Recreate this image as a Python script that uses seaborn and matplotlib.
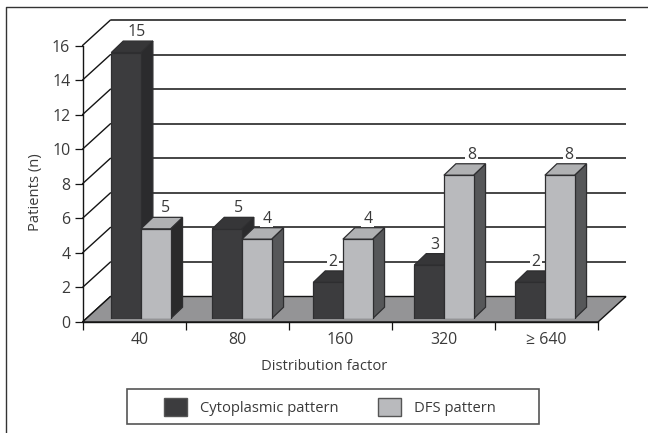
import matplotlib
matplotlib.use("Agg")
import matplotlib.pyplot as plt
import pandas as pd
import seaborn as sns
from matplotlib.lines import Line2D
from matplotlib.patches import Patch, Polygon, Rectangle
from matplotlib.transforms import Affine2D, IdentityTransform

categories = ["40", "80", "160", "320", "≥ 640"]
series_names = ["Cytoplasmic pattern", "DFS pattern"]
cytoplasmic_drawn = [15.4, 5.2, 2.1, 3.1, 2.1]
dfs_drawn = [5.2, 4.6, 4.6, 8.3, 8.3]
cytoplasmic_labels = [15, 5, 2, 3, 2]
dfs_labels = [5, 4, 4, 8, 8]
y_ticks = list(range(0, 17, 2))

W, H = 648, 433
TXT = "#3a3a3a"
LINE = "#141414"
FS = 10.6
FS_NUM = 11.4

sns.set_theme(style="white")
plt.rcParams["font.family"] = ["Open Sans", "DejaVu Sans"]

df = pd.DataFrame({
    "factor": categories * 2,
    "pattern": [series_names[0]] * 5 + [series_names[1]] * 5,
    "patients": cytoplasmic_drawn + dfs_drawn,
})


def box(left, top, right, bottom):
    return [left / W, 1 - bottom / H, (right - left) / W, (bottom - top) / H]


fig = plt.figure(figsize=(W / 100, H / 100), dpi=100, facecolor="white")
I = IdentityTransform()

# outer frame (only its top and left sides fall inside the picture)
fig.add_artist(Line2D([6 / W, 6 / W, 1], [0, 1 - 6.5 / H, 1 - 6.5 / H],
                      transform=fig.transFigure, color="#333333", lw=1.0))

# frame axes: front plane of the 3D box
frame = fig.add_axes(box(82.5, 45.5, 598, 322))
frame.patch.set_visible(False)
frame.set_xlim(0, 5)
frame.set_ylim(0, 16)
DX, DY = 28, 25.5
back = frame.transData + Affine2D().translate(DX, DY)
frame.hlines(y_ticks, 0, 5, transform=back, colors=LINE, lw=1.1, zorder=1.5, clip_on=False)
fig.canvas.draw()
for v in y_ticks:
    x0, y0 = frame.transData.transform((0, v))
    frame.add_line(Line2D([x0, x0 + DX], [y0, y0 + DY], transform=I, color=LINE,
                          lw=1.0, zorder=1.6, clip_on=False))
fl = [frame.transData.transform(p) for p in [(0, 0), (5, 0)]]
floor = [fl[0], fl[1], fl[1] + (DX, DY), fl[0] + (DX, DY)]
frame.add_patch(Polygon(floor, closed=True, transform=I, facecolor="#949496",
                        edgecolor=LINE, lw=1.0, zorder=1.8, clip_on=False))

for s in ["top", "right"]:
    frame.spines[s].set_visible(False)
for s in ["left", "bottom"]:
    frame.spines[s].set_color(LINE)
    frame.spines[s].set_linewidth(1.0)
frame.set_yticks(y_ticks)
frame.set_xticks(range(6))
frame.set_xticklabels([])
frame.set_xticks([0.55, 1.5, 2.5, 3.5, 4.5], labels=categories, minor=True)
frame.tick_params(axis="y", which="major", left=True, length=5.8, width=0.9, color=LINE,
                  labelsize=FS_NUM, labelcolor=TXT, pad=3)
frame.tick_params(axis="x", which="major", bottom=True, length=5.8, width=0.9, color=LINE)
frame.tick_params(axis="x", which="minor", bottom=True, length=0, labelsize=FS_NUM,
                  labelcolor=TXT, pad=7.5)
frame.set_xlabel("Distribution factor", fontsize=FS, color=TXT, va="center")
frame.xaxis.set_label_coords((324 - 82.5) / 515.5, (322 - 366) / 276.5)
frame.set_ylabel("Patients (n)", fontsize=FS, color=TXT, va="center")
frame.yaxis.set_label_coords((36 - 82.5) / 515.5, (322 - 192) / 276.5)

# bar axes: the plane of the bar fronts
ax = fig.add_axes(box(90.4, 42.2, 595.4, 318.7))
ax.patch.set_visible(False)
FRONT = ["#3c3c3e", "#b9babd"]
sns.barplot(data=df, x="factor", y="patients", hue="pattern", order=categories,
            hue_order=series_names, palette=FRONT, width=0.587, gap=0, saturation=1,
            edgecolor="#2e2e30", linewidth=0.9, legend=False, ax=ax)
ax.set_xlim(-0.5, 4.5)
ax.set_ylim(0, 16)
ax.axis("off")
fig.canvas.draw()

TOP = ["#363638"] * 5 + ["#b0b1b3"] * 5
SIDE = ["#2b2b2d"] * 5 + ["#2a2a2b", "#565759", "#565759", "#565759", "#565759"]
LABELS = cytoplasmic_labels + dfs_labels
LABEL_DX = [10.5, 11, 5, 6, 6, 10, 10, 10, 12.7, 9.5]
BX, BY = 12, 11.5

bars = list(ax.patches)[:10]
for i, bar in enumerate(bars):
    cat = i % 5
    z = 3 + cat + (0.5 if i >= 5 else 0)
    b = bar.get_window_extent()
    x0, x1, y0, y1 = b.x0, b.x1, b.y0, b.y1
    edge = "#2e2e30"
    ax.add_patch(Polygon([(x1, y0), (x1 + BX, y0 + BY), (x1 + BX, y1 + BY), (x1, y1)],
                         closed=True, transform=I, facecolor=SIDE[i], edgecolor=edge,
                         lw=0.9, zorder=z, clip_on=False))
    ax.add_patch(Polygon([(x0, y1), (x1, y1), (x1 + BX, y1 + BY), (x0 + BX, y1 + BY)],
                         closed=True, transform=I, facecolor=TOP[i], edgecolor=edge,
                         lw=0.9, zorder=z + 0.1, clip_on=False))
    bar.set_zorder(z + 0.2)
    # value labels sit under the bars in z-order so their white backing only breaks gridlines
    ax.text((x0 + x1) / 2 + LABEL_DX[i], y1 + BY + 9, str(LABELS[i]), transform=I,
            ha="center", va="center", fontsize=FS_NUM, color=TXT, zorder=2.5,
            bbox=dict(facecolor="white", edgecolor="none", pad=1.2))

# legend
fig.add_artist(Rectangle((126.5 / W, 1 - 423.7 / H), (538.7 - 126.5) / W, (423.7 - 389) / H,
                         transform=fig.transFigure, facecolor="white",
                         edgecolor="#555555", lw=1.2))
handles = [Patch(facecolor=FRONT[0], edgecolor="#555555", lw=1.0),
           Patch(facecolor=FRONT[1], edgecolor="#555555", lw=1.0)]
leg = fig.legend(handles, series_names, ncol=2, loc="center left",
                 bbox_to_anchor=(164 / W, 1 - 407 / H), frameon=False, fontsize=FS,
                 labelcolor=TXT, handlelength=1.56, handleheight=1.56, handletextpad=0.88,
                 columnspacing=2.7, borderpad=0, borderaxespad=0)
leg.set_zorder(30)

fig.savefig("out.png", dpi=100)
